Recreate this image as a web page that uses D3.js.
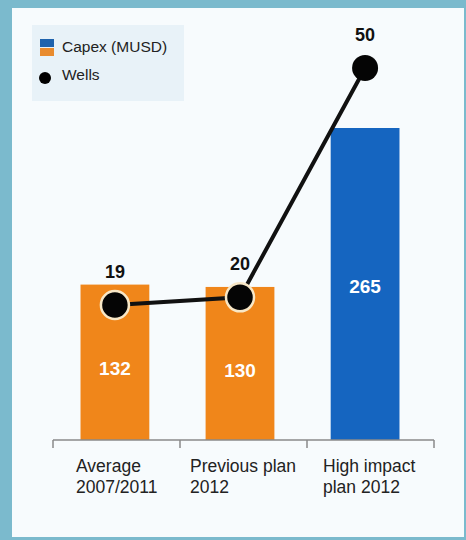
<!DOCTYPE html>
<html>
<head>
<meta charset="utf-8">
<script src="https://cdn.jsdelivr.net/npm/d3@7"></script>
<style>
  body { margin: 0; background: #ffffff; }
  svg { display: block; font-family: "Liberation Sans", Arial, sans-serif; }
</style>
</head>
<body>
<svg id="chart" width="466" height="540"></svg>
<script>
// chart data
const categories = ["avg", "prev", "high"];
const catLabels = [["Average", "2007/2011"], ["Previous plan", "2012"], ["High impact", "plan 2012"]];
const capex = [132, 130, 265];
const wells = [19, 20, 50];
const barColors = ["#f0861a", "#f0861a", "#1565c0"];

const svg = d3.select("#chart");

// frame
svg.append("rect").attr("x", 0).attr("y", 0).attr("width", 466).attr("height", 540).attr("fill", "#7bbacd");
svg.append("rect").attr("x", 12).attr("y", 8).attr("width", 452).attr("height", 529).attr("fill", "#f7fbfd");

// legend box
const legend = svg.append("g");
legend.append("rect").attr("x", 32).attr("y", 25).attr("width", 152).attr("height", 76).attr("fill", "#e8f2f8");
legend.append("rect").attr("x", 40).attr("y", 39).attr("width", 14).attr("height", 8).attr("fill", "#1f63ad");
legend.append("rect").attr("x", 40).attr("y", 48).attr("width", 14).attr("height", 8).attr("fill", "#e88b2e");
legend.append("text").attr("x", 62).attr("y", 52).attr("font-size", 15.5).attr("fill", "#222").text("Capex (MUSD)");
legend.append("circle").attr("cx", 45).attr("cy", 78).attr("r", 6).attr("fill", "#000");
legend.append("text").attr("x", 62).attr("y", 80).attr("font-size", 15.5).attr("fill", "#222").text("Wells");

// scales
const x = d3.scaleBand().domain(categories).range([53, 427]).paddingInner(0.45).paddingOuter(0.22);
const y = d3.scaleLinear().domain([0, 265]).range([440, 128]);
const yw = d3.scaleLinear().domain([19, 50]).range([305, 68]);

// bars
svg.selectAll(".bar").data(categories).join("rect")
  .attr("class", "bar")
  .attr("x", d => x(d))
  .attr("width", x.bandwidth())
  .attr("y", (d, i) => y(capex[i]))
  .attr("height", (d, i) => y(0) - y(capex[i]))
  .attr("fill", (d, i) => barColors[i]);

svg.selectAll(".barLabel").data(categories).join("text")
  .attr("class", "barLabel")
  .attr("x", d => x(d) + x.bandwidth() / 2)
  .attr("y", (d, i) => i < 2 ? y(capex[i]) + 90 : y(capex[i]) + 165)
  .attr("text-anchor", "middle")
  .attr("font-size", 19).attr("font-weight", "bold").attr("fill", "#fff")
  .text((d, i) => capex[i]);

// x axis
const axis = svg.append("g").attr("transform", "translate(0,440)");
axis.append("line").attr("x1", 53).attr("x2", 434).attr("stroke", "#8a8a8a").attr("stroke-width", 1.5);
const step = (434 - 53) / 3;
axis.selectAll(".tick").data(d3.range(4)).join("line")
  .attr("x1", d => 53 + d * step).attr("x2", d => 53 + d * step)
  .attr("y1", 0).attr("y2", 8)
  .attr("stroke", "#8a8a8a").attr("stroke-width", 1.5);

const labelX = [76, 190, 323];
catLabels.forEach((lines, i) => {
  const t = svg.append("text").attr("x", labelX[i]).attr("y", 472).attr("font-size", 17.5).attr("fill", "#222");
  lines.forEach((l, j) => t.append("tspan").attr("x", labelX[i]).attr("dy", j ? 21 : 0).text(l));
});

// wells line
const cx = d => x(d) + x.bandwidth() / 2;
svg.append("path")
  .datum(categories)
  .attr("d", d3.line().x(d => cx(d)).y((d, i) => yw(wells[i])))
  .attr("fill", "none").attr("stroke", "#111").attr("stroke-width", 4);

svg.selectAll(".well").data(categories).join("circle")
  .attr("class", "well")
  .attr("cx", cx)
  .attr("cy", (d, i) => yw(wells[i]))
  .attr("r", (d, i) => i < 2 ? 14 : 13)
  .attr("fill", "#050505")
  .attr("stroke", (d, i) => i < 2 ? "#f8e7c6" : "none")
  .attr("stroke-width", 2.5);

svg.selectAll(".wellLabel").data(categories).join("text")
  .attr("class", "wellLabel")
  .attr("x", cx)
  .attr("y", (d, i) => yw(wells[i]) - 27)
  .attr("text-anchor", "middle")
  .attr("font-size", 18).attr("font-weight", "bold").attr("fill", "#111")
  .text((d, i) => wells[i]);
</script>
</body>
</html>
